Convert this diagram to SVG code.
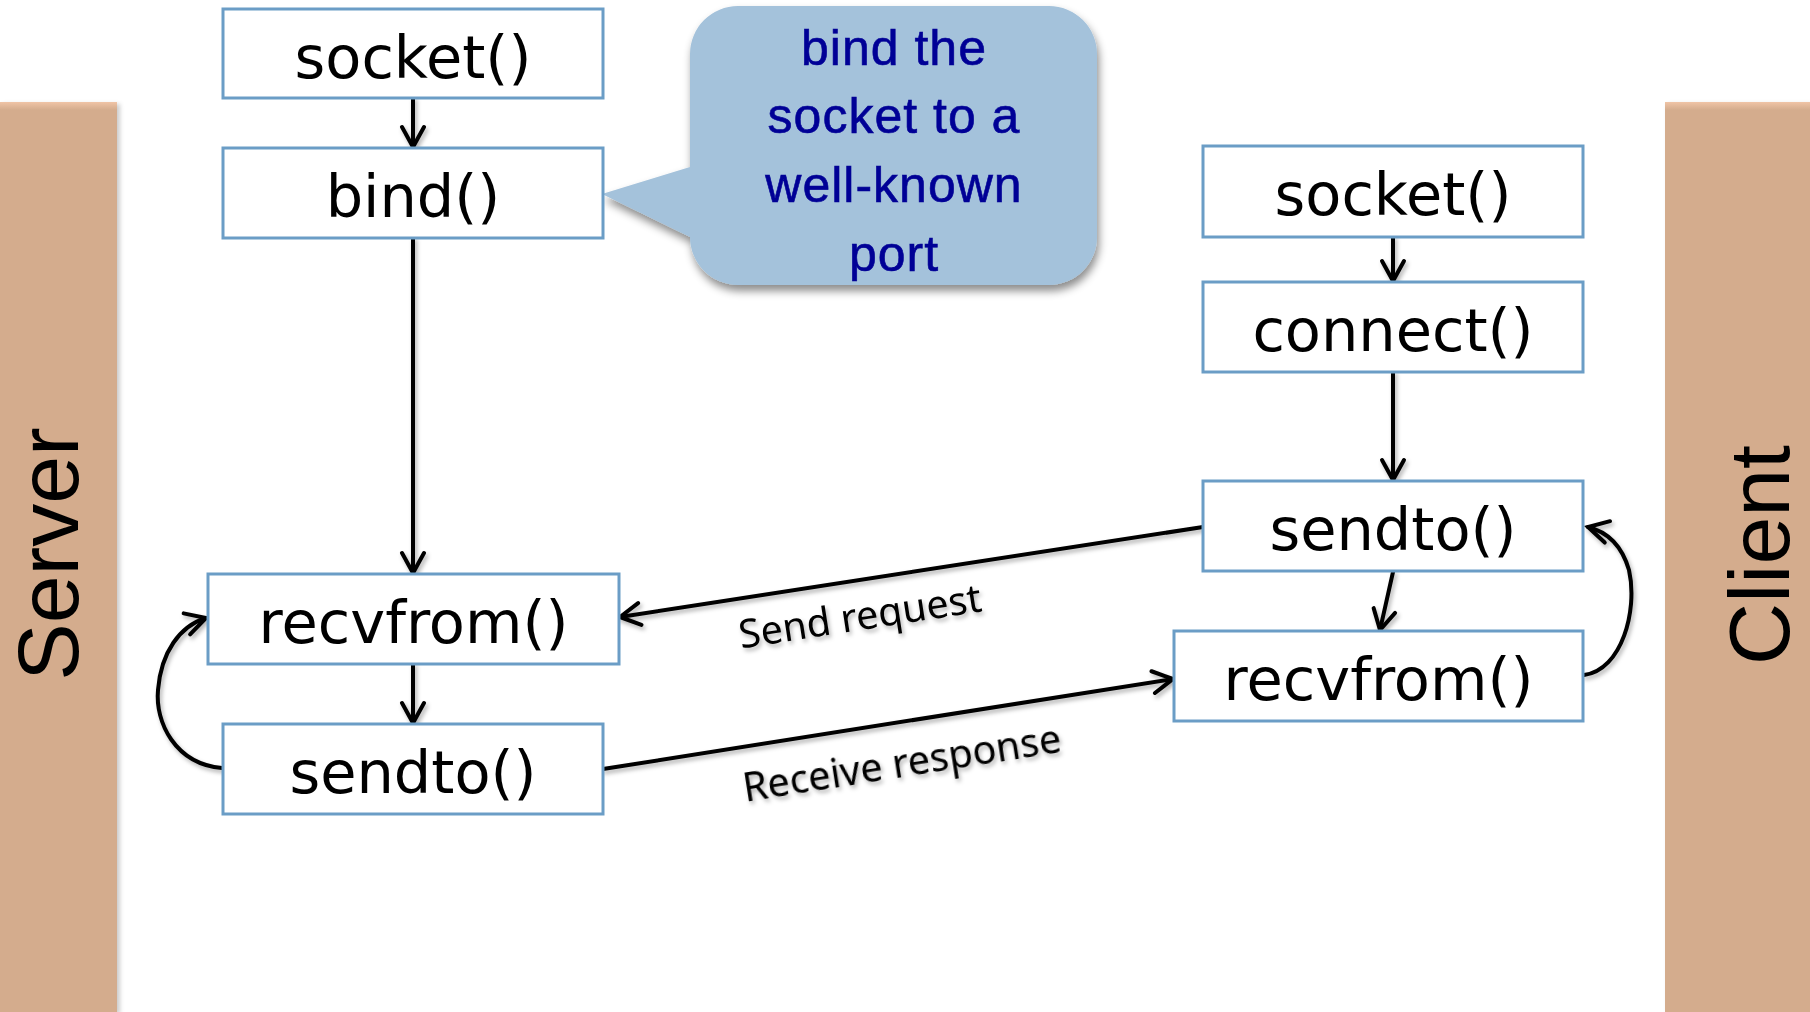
<svg xmlns="http://www.w3.org/2000/svg" width="1810" height="1012" viewBox="0 0 1810 1012">
  <style>
    .box { fill: #ffffff; stroke: #6b9dc6; stroke-width: 3; }
    .lbl { font-family: "DejaVu Sans", sans-serif; font-size: 59px; fill: #000000; text-anchor: middle; }
    .side { font-family: "Liberation Sans", Arial, sans-serif; font-size: 86px; fill: #000000; text-anchor: middle; }
    .bar { fill: #d4ac8d; }
    .conn { fill: none; stroke: #000000; stroke-width: 4; stroke-linecap: round; }
    .edge-lbl { font-family: "Noto Sans", "Liberation Sans", sans-serif; font-size: 39.5px; fill: #000000; text-anchor: middle; }
    .note { font-family: "Liberation Sans", Arial, sans-serif; font-size: 50px; fill: #000096; stroke: #000096; stroke-width: 0.6; text-anchor: middle; letter-spacing: 1px; }
  </style>
  <defs>
    <marker id="arrow" markerUnits="userSpaceOnUse" markerWidth="30" markerHeight="30" viewBox="0 0 30 30" refX="25" refY="15" orient="auto">
      <path d="M5,4 L25,15 L5,26" fill="none" stroke="#000000" stroke-width="4" stroke-linecap="round" stroke-linejoin="miter"/>
    </marker>
    <filter id="lineShadow" x="-20%" y="-20%" width="140%" height="140%">
      <feDropShadow dx="2" dy="3" stdDeviation="2" flood-color="#000000" flood-opacity="0.3"/>
    </filter>
    <filter id="bubbleShadow" x="-10%" y="-10%" width="120%" height="130%">
      <feDropShadow dx="2" dy="6" stdDeviation="4" flood-color="#000000" flood-opacity="0.45"/>
    </filter>
    <filter id="barShadow" x="-20%" y="-5%" width="140%" height="110%">
      <feDropShadow dx="3" dy="2" stdDeviation="2" flood-color="#000000" flood-opacity="0.2"/>
    </filter>
    <linearGradient id="barTop" x1="0" y1="0" x2="0" y2="1">
      <stop offset="0" stop-color="#f0c4a6"/>
      <stop offset="1" stop-color="#d4ac8d"/>
    </linearGradient>
  </defs>

  <rect width="1810" height="1012" fill="#ffffff"/>

  <!-- side bands -->
  <g id="server-band" filter="url(#barShadow)">
    <rect class="bar" x="0" y="102" width="117" height="910"/>
    <rect x="0" y="102" width="117" height="8" fill="url(#barTop)"/>
    <text class="side" transform="translate(78,554) rotate(-90)">Server</text>
  </g>
  <g id="client-band" filter="url(#barShadow)">
    <rect class="bar" x="1665" y="102" width="145" height="910"/>
    <rect x="1665" y="102" width="145" height="8" fill="url(#barTop)"/>
    <text class="side" transform="translate(1789,555) rotate(-90)">Client</text>
  </g>

  <!-- callout -->
  <g id="note-bind">
    <path d="M738,6 H1049 A48,48 0 0 1 1097,54 V237 A48,48 0 0 1 1049,285 H738 A48,48 0 0 1 690,237 L602,194 L690,167 V54 A48,48 0 0 1 738,6 Z" fill="#a4c2db" filter="url(#bubbleShadow)"/>
    <text class="note" x="894" y="65">bind the</text>
    <text class="note" x="894" y="133">socket to a</text>
    <text class="note" x="894" y="202">well-known</text>
    <text class="note" x="894" y="271">port</text>
  </g>

  <!-- connectors -->
  <g id="connectors" filter="url(#lineShadow)">
    <path class="conn" d="M413,98 L413,147" marker-end="url(#arrow)"/>
    <path class="conn" d="M413,238 L413,573" marker-end="url(#arrow)"/>
    <path class="conn" d="M413,664 L413,723" marker-end="url(#arrow)"/>
    <path class="conn" d="M222,768 C175,764 155,722 158,690 C161,652 180,626 206,618" marker-end="url(#arrow)"/>
    <path class="conn" d="M1393,237 L1393,281" marker-end="url(#arrow)"/>
    <path class="conn" d="M1393,372 L1393,480" marker-end="url(#arrow)"/>
    <path class="conn" d="M1393,572 L1380,630" marker-end="url(#arrow)"/>
    <path class="conn" d="M1584,675 C1622,670 1638,610 1629,570 C1622,546 1608,532 1588,527" marker-end="url(#arrow)"/>
    <path class="conn" d="M1203,527 L620,617" marker-end="url(#arrow)"/>
    <path class="conn" d="M603,769 L1173,679" marker-end="url(#arrow)"/>
    <text class="edge-lbl" transform="translate(860,617) rotate(-8.76)" y="13">Send request</text>
    <text class="edge-lbl" transform="translate(902,764) rotate(-8.96)" y="13">Receive response</text>
  </g>

  <!-- server calls -->
  <g id="srv-socket">
    <rect class="box" x="223" y="9" width="380" height="89"/>
    <text class="lbl" x="413" y="78">socket()</text>
  </g>
  <g id="srv-bind">
    <rect class="box" x="223" y="148" width="380" height="90"/>
    <text class="lbl" x="413" y="217">bind()</text>
  </g>
  <g id="srv-recvfrom">
    <rect class="box" x="208" y="574" width="411" height="90"/>
    <text class="lbl" x="413.5" y="643">recvfrom()</text>
  </g>
  <g id="srv-sendto">
    <rect class="box" x="223" y="724" width="380" height="90"/>
    <text class="lbl" x="413" y="793">sendto()</text>
  </g>

  <!-- client calls -->
  <g id="cli-socket">
    <rect class="box" x="1203" y="146" width="380" height="91"/>
    <text class="lbl" x="1393" y="215">socket()</text>
  </g>
  <g id="cli-connect">
    <rect class="box" x="1203" y="282" width="380" height="90"/>
    <text class="lbl" x="1393" y="351">connect()</text>
  </g>
  <g id="cli-sendto">
    <rect class="box" x="1203" y="481" width="380" height="90"/>
    <text class="lbl" x="1393" y="550">sendto()</text>
  </g>
  <g id="cli-recvfrom">
    <rect class="box" x="1174" y="631" width="409" height="90"/>
    <text class="lbl" x="1378.5" y="700">recvfrom()</text>
  </g>
</svg>
